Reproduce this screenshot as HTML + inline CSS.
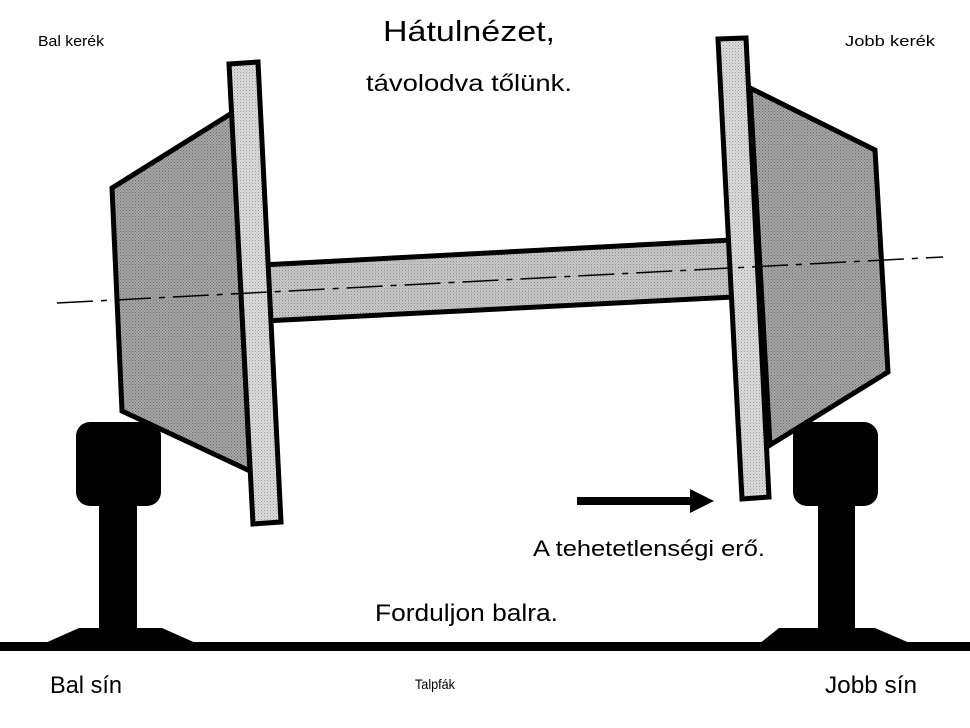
<!DOCTYPE html>
<html><head><meta charset="utf-8"><style>
html,body{margin:0;padding:0;background:#fff;}
svg{display:block;}
text{font-family:"Liberation Sans",sans-serif;fill:#000;}
</style></head><body>
<svg width="970" height="728" viewBox="0 0 970 728" xmlns="http://www.w3.org/2000/svg">
<defs>
<pattern id="dk" width="3" height="3" patternUnits="userSpaceOnUse"><rect width="3" height="3" fill="#a8a8a8"/><rect width="1" height="1" fill="#6a6a6a"/><rect x="1.5" y="1.5" width="1" height="1" fill="#6a6a6a"/></pattern>
<pattern id="lt" width="3" height="3" patternUnits="userSpaceOnUse"><rect width="3" height="3" fill="#dcdcdc"/><rect width="1" height="1" fill="#9a9a9a"/><rect x="1.5" y="1.5" width="1" height="1" fill="#b0b0b0"/></pattern>
<pattern id="md" width="3" height="3" patternUnits="userSpaceOnUse"><rect width="3" height="3" fill="#c8c8c8"/><rect width="1" height="1" fill="#8a8a8a"/><rect x="1.5" y="1.5" width="1" height="1" fill="#a0a0a0"/></pattern>
</defs>
<polygon points="262,265 732,240 734,297 264,321" fill="url(#md)" stroke="#000" stroke-width="5"/>
<polygon points="112,188 232,113 250,471 122,411" fill="url(#dk)" stroke="#000" stroke-width="5"/>
<polygon points="229,64 258,62 281,522 253,524" fill="url(#lt)" stroke="#000" stroke-width="5"/>
<polygon points="750,88 875,150 888,372 770,445" fill="url(#dk)" stroke="#000" stroke-width="5"/>
<polygon points="718,39 746,38 769,497 742,499" fill="url(#lt)" stroke="#000" stroke-width="5"/>
<line x1="57" y1="303" x2="943" y2="257" stroke="#000" stroke-width="1.5" stroke-dasharray="36,8,6,8"/>
<rect x="76" y="422" width="85" height="84" rx="14" fill="#000"/>
<rect x="99" y="500" width="38" height="132" fill="#000"/>
<polygon points="79,628 162,628 198,644 43,644" fill="#000"/>
<rect x="793" y="422" width="85" height="84" rx="14" fill="#000"/>
<rect x="818" y="500" width="37" height="132" fill="#000"/>
<polygon points="779,628 875,628 912,644 759,644" fill="#000"/>
<rect x="0" y="642" width="970" height="9" fill="#000"/>
<rect x="577" y="497" width="115" height="8" fill="#000"/>
<polygon points="690,489 714,501 690,513" fill="#000"/>
<text x="38" y="46" font-size="15" textLength="66" lengthAdjust="spacingAndGlyphs">Bal kerék</text>
<text x="845" y="46" font-size="15" textLength="90" lengthAdjust="spacingAndGlyphs">Jobb kerék</text>
<text x="383" y="41" font-size="29" textLength="172" lengthAdjust="spacingAndGlyphs">Hátulnézet,</text>
<text x="366" y="91" font-size="23" textLength="206" lengthAdjust="spacingAndGlyphs">távolodva tőlünk.</text>
<text x="533" y="556" font-size="22" textLength="232" lengthAdjust="spacingAndGlyphs">A tehetetlenségi erő.</text>
<text x="375" y="621" font-size="24" textLength="183" lengthAdjust="spacingAndGlyphs">Forduljon balra.</text>
<text x="50" y="693" font-size="24" textLength="72" lengthAdjust="spacingAndGlyphs">Bal sín</text>
<text x="415" y="689" font-size="14" textLength="40" lengthAdjust="spacingAndGlyphs">Talpfák</text>
<text x="825" y="693" font-size="24" textLength="92" lengthAdjust="spacingAndGlyphs">Jobb sín</text>
</svg>
</body></html>
